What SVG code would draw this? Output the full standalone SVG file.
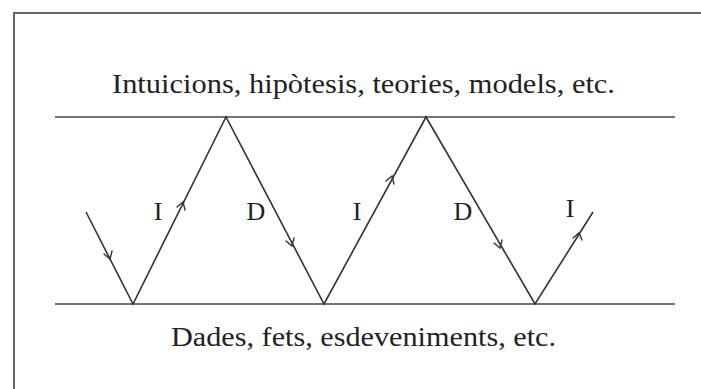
<svg xmlns="http://www.w3.org/2000/svg" width="701" height="389" viewBox="0 0 701 389">
<defs>
<style>
.frame{fill:none;stroke:#666;stroke-width:2}
.rule{stroke:#444;stroke-width:1.6;fill:none}
.zig{stroke:#333;stroke-width:1.6;fill:none;stroke-linejoin:miter}
.head{stroke:#333;stroke-width:1.4;fill:none;stroke-linecap:round}
.txt{font-family:"Liberation Serif","DejaVu Serif",serif;fill:#222}
.lbl{font-family:"Liberation Serif","DejaVu Serif",serif;fill:#222;font-size:26px;text-anchor:middle}
</style>
</defs>
<rect width="701" height="389" fill="#fff"/>
<path class="frame" d="M14 389 V13 H701"/>
<g id="top-level">
<line class="rule" x1="55" y1="117" x2="675" y2="117"/>
<text class="txt" x="112" y="93" font-size="27" textLength="503" lengthAdjust="spacingAndGlyphs">Intuicions, hipòtesis, teories, models, etc.</text>
</g>
<g id="bottom-level">
<line class="rule" x1="55" y1="304" x2="675" y2="304"/>
<text class="txt" x="171" y="346" font-size="27" textLength="385" lengthAdjust="spacingAndGlyphs">Dades, fets, esdeveniments, etc.</text>
</g>
<g id="connectors">
<polyline class="zig" points="86,212 133,304 226,117 324,304 426,117 535,304 593,212"/>
<g id="arrowheads">
<path class="head" d="M104 254 L110 259 L112 251"/>
<path class="head" d="M177 207 L183 202 L185 210"/>
<path class="head" d="M286 241 L292 246 L294 238"/>
<path class="head" d="M386 181 L392 176 L394 184"/>
<path class="head" d="M494 243 L500 248 L502 240"/>
<path class="head" d="M573 238 L579 233 L582 240"/>
</g>
</g>
<g id="labels">
<text class="lbl" x="158" y="220">I</text>
<text class="lbl" x="256" y="220">D</text>
<text class="lbl" x="357" y="220">I</text>
<text class="lbl" x="463" y="220">D</text>
<text class="lbl" x="570" y="217">I</text>
</g>
</svg>
